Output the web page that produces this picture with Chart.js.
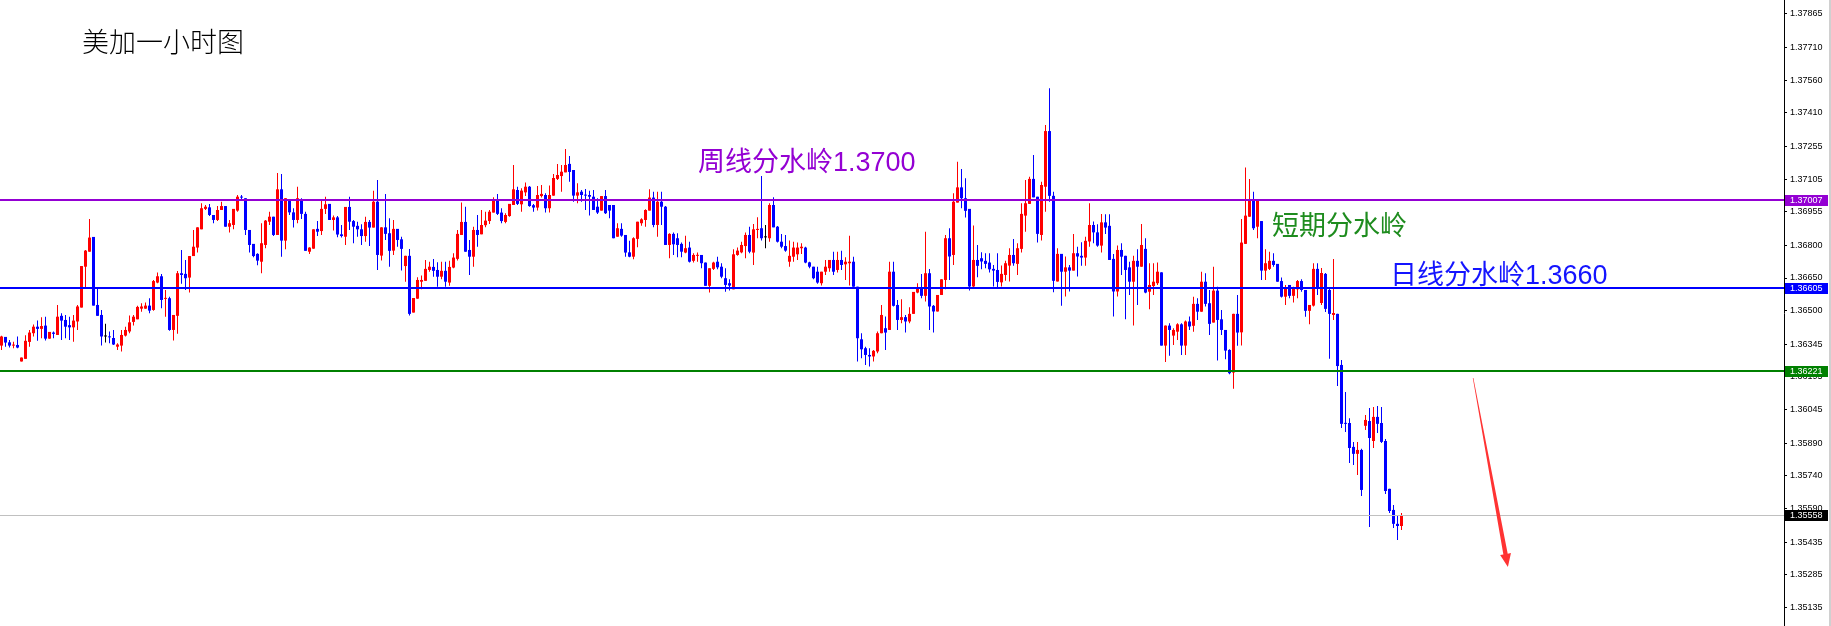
<!DOCTYPE html>
<html>
<head>
<meta charset="utf-8">
<title>美加一小时图</title>
<script src="https://cdn.jsdelivr.net/npm/chart.js@4.4.1/dist/chart.umd.min.js"></script>
<style>
  html, body { margin: 0; padding: 0; background: #fff; }
  #wrap { width: 1831px; height: 626px; }
</style>
</head>
<body>
<div id="wrap"><canvas id="usdcadChart" width="1831" height="626"></canvas></div>
<script>
// hourly candles (oldest first)
const opens = [
  1.36339,1.36379,1.36354,1.36339,1.36342,1.36266,1.36278,1.36356,1.36396,1.36426,
  1.36416,1.36431,1.36371,1.36399,1.36388,1.36476,1.36457,1.36433,1.36423,1.36450,
  1.36514,1.36702,1.36771,1.36839,1.36526,1.36480,1.36381,1.36381,1.36374,1.36334,
  1.36339,1.36385,1.36404,1.36448,1.36460,1.36509,1.36509,1.36523,1.36503,1.36629,
  1.36658,1.36554,1.36557,1.36411,1.36476,1.36672,1.36669,1.36652,1.36751,1.36790,
  1.36874,1.36968,1.36975,1.36940,1.36917,1.36963,1.36981,1.36886,1.36894,1.36960,
  1.37024,1.37017,1.36871,1.36807,1.36761,1.36725,1.36802,1.36909,1.36932,1.36848,
  1.37058,1.36822,1.37012,1.36952,1.36917,1.37009,1.36945,1.36771,1.36785,1.36876,
  1.36866,1.36968,1.36991,1.36917,1.36929,1.36851,1.36840,1.36977,1.36912,1.36890,
  1.36874,1.36843,1.36908,1.36882,1.37001,1.36753,1.36883,1.36856,1.36776,1.36876,
  1.36828,1.36705,1.36752,1.36491,1.36555,1.36633,1.36637,1.36687,1.36701,1.36687,
  1.36656,1.36683,1.36629,1.36698,1.36738,1.36848,1.36908,1.36779,1.36748,1.36871,
  1.36851,1.36893,1.36912,1.36951,1.37012,1.36951,1.36908,1.36935,1.36986,1.37055,
  1.36989,1.37044,1.37070,1.36985,1.36974,1.37027,1.37032,1.36971,1.37029,1.37106,
  1.37119,1.37136,1.37175,1.37147,1.37029,1.37047,1.37032,1.37032,1.37024,1.36978,
  1.36960,1.37027,1.36986,1.36986,1.36840,1.36876,1.36848,1.36768,1.36748,1.36830,
  1.36902,1.36917,1.36960,1.37020,1.36894,1.37001,1.36978,1.36802,1.36853,1.36833,
  1.36807,1.36767,1.36790,1.36729,1.36752,1.36756,1.36721,1.36614,1.36692,1.36725,
  1.36702,1.36649,1.36626,1.36598,1.36756,1.36768,1.36797,1.36848,1.36767,1.36871,
  1.36879,1.36837,1.36833,1.36986,1.36886,1.36817,1.36797,1.36725,1.36748,1.36759,
  1.36787,1.36790,1.36722,1.36702,1.36679,1.36626,1.36679,1.36695,1.36733,1.36687,
  1.36733,1.36713,1.36718,1.36725,1.36610,1.36368,1.36327,1.36296,1.36289,1.36312,
  1.36396,1.36419,1.36411,1.36679,1.36526,1.36457,1.36470,1.36450,1.36485,1.36583,
  1.36600,1.36568,1.36672,1.36522,1.36496,1.36572,1.36641,1.36833,1.36756,1.36997,
  1.37067,1.37017,1.36968,1.36611,1.36733,1.36741,1.36729,1.36721,1.36692,1.36687,
  1.36630,1.36664,1.36707,1.36756,1.36715,1.36784,1.36937,1.36991,1.37106,1.37024,
  1.36848,1.37070,1.37326,1.37028,1.36634,1.36761,1.36679,1.36699,1.36684,1.36764,
  1.36752,1.36744,1.36818,1.36894,1.36860,1.36799,1.36906,1.36890,1.36738,1.36588,
  1.36779,1.36752,1.36699,1.36633,1.36729,1.36702,1.36784,1.36587,1.36613,1.36626,
  1.36676,1.36339,1.36431,1.36385,1.36403,1.36437,1.36339,1.36450,1.36430,1.36531,
  1.36495,1.36633,1.36534,1.36445,1.36592,1.36460,1.36411,1.36319,1.36215,1.36485,
  1.36400,1.36807,1.36932,1.37012,1.36886,1.36912,1.36684,1.36692,1.36729,1.36715,
  1.36636,1.36564,1.36618,1.36568,1.36598,1.36636,1.36595,1.36499,1.36523,1.36692,
  1.36535,1.36669,1.36595,1.36480,1.36485,1.36250,1.35983,1.35983,1.35873,1.35841,
  1.35859,1.35970,1.35992,1.35900,1.36011,1.35983,1.35900,1.35680,1.35583,1.35519,1.35509
];
const highs = [
  1.36384,1.36379,1.36365,1.36357,1.36381,1.36284,1.36387,1.36411,1.36436,1.36454,
  1.36469,1.36472,1.36402,1.36404,1.36526,1.36488,1.36480,1.36472,1.36480,1.36526,
  1.36705,1.36779,1.36922,1.36839,1.36603,1.36503,1.36439,1.36404,1.36411,1.36350,
  1.36411,1.36426,1.36477,1.36480,1.36522,1.36534,1.36537,1.36557,1.36641,1.36675,
  1.36669,1.36595,1.36564,1.36480,1.36682,1.36779,1.36733,1.36751,1.36871,1.36883,
  1.36994,1.36986,1.36991,1.36940,1.36981,1.37001,1.36981,1.36917,1.36968,1.37032,
  1.37032,1.37017,1.36871,1.36807,1.36764,1.36902,1.36917,1.36955,1.36932,1.37133,
  1.37128,1.37017,1.37012,1.36971,1.37070,1.37017,1.36955,1.36791,1.36874,1.36912,
  1.37009,1.37024,1.36991,1.36937,1.36935,1.36894,1.36977,1.37024,1.36917,1.36909,
  1.36897,1.36932,1.36917,1.37052,1.37101,1.36883,1.37037,1.36925,1.36917,1.36876,
  1.36840,1.36752,1.36784,1.36558,1.36653,1.36661,1.36733,1.36725,1.36738,1.36722,
  1.36725,1.36725,1.36729,1.36764,1.36871,1.36997,1.36978,1.36825,1.36886,1.36940,
  1.36963,1.36955,1.36963,1.37021,1.37037,1.36971,1.36948,1.36991,1.37170,1.37070,
  1.37063,1.37089,1.37073,1.36991,1.37073,1.37078,1.37040,1.37076,1.37129,1.37175,
  1.37170,1.37244,1.37211,1.37147,1.37086,1.37055,1.37060,1.37052,1.37055,1.37017,
  1.37027,1.37055,1.36986,1.36986,1.36902,1.36902,1.36848,1.36821,1.36837,1.36909,
  1.36925,1.36966,1.37058,1.37047,1.37047,1.37047,1.36981,1.36856,1.36859,1.36856,
  1.36813,1.36844,1.36817,1.36764,1.36767,1.36756,1.36721,1.36695,1.36725,1.36748,
  1.36718,1.36695,1.36644,1.36782,1.36790,1.36817,1.36859,1.36886,1.36899,1.36929,
  1.37119,1.36894,1.36994,1.37021,1.36889,1.36853,1.36848,1.36822,1.36817,1.36813,
  1.36810,1.36794,1.36725,1.36702,1.36702,1.36679,1.36733,1.36733,1.36771,1.36771,
  1.36775,1.36745,1.36844,1.36748,1.36610,1.36396,1.36334,1.36327,1.36319,1.36404,
  1.36526,1.36473,1.36725,1.36725,1.36549,1.36552,1.36480,1.36515,1.36586,1.36626,
  1.36669,1.36863,1.36692,1.36526,1.36572,1.36644,1.36848,1.36879,1.37040,1.37185,
  1.37152,1.37109,1.36968,1.36891,1.36802,1.36768,1.36764,1.36764,1.36710,1.36764,
  1.36707,1.36729,1.36787,1.36830,1.36810,1.36994,1.37101,1.37116,1.37216,1.37024,
  1.37093,1.37354,1.37523,1.37047,1.36787,1.36761,1.36749,1.36710,1.36853,1.36794,
  1.36814,1.36840,1.36994,1.36910,1.36897,1.36945,1.36943,1.36943,1.36761,1.36799,
  1.36810,1.36752,1.36725,1.36752,1.36782,1.36899,1.36833,1.36718,1.36718,1.36721,
  1.36676,1.36431,1.36442,1.36419,1.36442,1.36442,1.36454,1.36473,1.36564,1.36557,
  1.36679,1.36672,1.36595,1.36702,1.36610,1.36503,1.36411,1.36322,1.36485,1.36572,
  1.36922,1.37158,1.37106,1.37047,1.37009,1.36912,1.36782,1.36771,1.36764,1.36715,
  1.36652,1.36618,1.36618,1.36610,1.36641,1.36644,1.36595,1.36526,1.36718,1.36718,
  1.36696,1.36673,1.36600,1.36738,1.36485,1.36273,1.36126,1.36005,1.35896,1.35896,
  1.35865,1.36020,1.36052,1.36057,1.36061,1.36057,1.35909,1.35680,1.35606,1.35555,1.35569
];
const lows = [
  1.36319,1.36334,1.36330,1.36327,1.36327,1.36266,1.36278,1.36334,1.36381,1.36361,
  1.36373,1.36362,1.36371,1.36373,1.36388,1.36365,1.36373,1.36365,1.36357,1.36411,
  1.36514,1.36603,1.36771,1.36523,1.36476,1.36339,1.36353,1.36350,1.36342,1.36319,
  1.36312,1.36381,1.36396,1.36431,1.36460,1.36495,1.36508,1.36488,1.36499,1.36626,
  1.36511,1.36472,1.36407,1.36362,1.36394,1.36623,1.36595,1.36583,1.36751,1.36767,
  1.36874,1.36963,1.36935,1.36902,1.36912,1.36963,1.36886,1.36859,1.36874,1.36955,
  1.37012,1.36848,1.36767,1.36745,1.36709,1.36672,1.36787,1.36894,1.36843,1.36848,
  1.36748,1.36782,1.36940,1.36882,1.36902,1.36922,1.36775,1.36761,1.36785,1.36843,
  1.36848,1.36945,1.36917,1.36868,1.36837,1.36836,1.36802,1.36871,1.36810,1.36840,
  1.36802,1.36817,1.36797,1.36882,1.36687,1.36730,1.36825,1.36702,1.36756,1.36794,
  1.36684,1.36633,1.36477,1.36491,1.36555,1.36598,1.36637,1.36679,1.36656,1.36610,
  1.36644,1.36610,1.36614,1.36695,1.36730,1.36848,1.36771,1.36664,1.36702,1.36794,
  1.36851,1.36883,1.36899,1.36951,1.36940,1.36902,1.36902,1.36932,1.36986,1.36986,
  1.36955,1.37027,1.36978,1.36955,1.36960,1.37020,1.36951,1.36951,1.37029,1.37101,
  1.37047,1.37136,1.37093,1.37001,1.36994,1.37001,1.36963,1.36937,1.36963,1.36945,
  1.36960,1.36945,1.36925,1.36833,1.36840,1.36840,1.36748,1.36745,1.36736,1.36791,
  1.36890,1.36886,1.36960,1.36883,1.36840,1.36894,1.36802,1.36741,1.36756,1.36745,
  1.36745,1.36764,1.36721,1.36721,1.36725,1.36695,1.36614,1.36583,1.36687,1.36690,
  1.36649,1.36587,1.36592,1.36598,1.36752,1.36764,1.36741,1.36764,1.36710,1.36833,
  1.36822,1.36787,1.36817,1.36883,1.36813,1.36787,1.36771,1.36702,1.36725,1.36733,
  1.36761,1.36718,1.36695,1.36644,1.36623,1.36615,1.36664,1.36679,1.36664,1.36675,
  1.36687,1.36641,1.36615,1.36610,1.36266,1.36281,1.36250,1.36243,1.36266,1.36304,
  1.36396,1.36319,1.36411,1.36519,1.36411,1.36442,1.36399,1.36442,1.36485,1.36580,
  1.36557,1.36542,1.36411,1.36399,1.36496,1.36572,1.36598,1.36641,1.36710,1.36997,
  1.36971,1.36928,1.36592,1.36603,1.36653,1.36690,1.36695,1.36675,1.36611,1.36603,
  1.36611,1.36637,1.36634,1.36706,1.36664,1.36767,1.36863,1.36991,1.37021,1.36813,
  1.36822,1.36955,1.37001,1.36584,1.36634,1.36522,1.36565,1.36588,1.36684,1.36657,
  1.36706,1.36706,1.36794,1.36810,1.36794,1.36767,1.36853,1.36733,1.36473,1.36565,
  1.36664,1.36460,1.36572,1.36431,1.36526,1.36702,1.36580,1.36506,1.36572,1.36618,
  1.36339,1.36263,1.36292,1.36342,1.36365,1.36296,1.36296,1.36411,1.36403,1.36457,
  1.36495,1.36519,1.36388,1.36445,1.36270,1.36388,1.36276,1.36207,1.36140,1.36338,
  1.36339,1.36807,1.36932,1.36871,1.36833,1.36641,1.36641,1.36687,1.36702,1.36633,
  1.36560,1.36526,1.36557,1.36537,1.36557,1.36587,1.36472,1.36437,1.36519,1.36572,
  1.36526,1.36494,1.36278,1.36457,1.36153,1.35960,1.35942,1.35799,1.35790,1.35744,
  1.35647,1.35951,1.35505,1.35868,1.35937,1.35891,1.35656,1.35569,1.35500,1.35445,1.35491
];
const closes = [
  1.36381,1.36353,1.36339,1.36342,1.36330,1.36284,1.36361,1.36399,1.36426,1.36416,
  1.36429,1.36371,1.36402,1.36393,1.36472,1.36454,1.36426,1.36423,1.36454,1.36519,
  1.36705,1.36776,1.36836,1.36523,1.36476,1.36381,1.36381,1.36377,1.36344,1.36344,
  1.36388,1.36411,1.36446,1.36472,1.36517,1.36519,1.36523,1.36500,1.36636,1.36658,
  1.36549,1.36557,1.36411,1.36480,1.36672,1.36664,1.36649,1.36751,1.36794,1.36883,
  1.36971,1.36978,1.36940,1.36917,1.36963,1.36981,1.36886,1.36902,1.36968,1.37024,
  1.37020,1.36871,1.36802,1.36751,1.36730,1.36810,1.36914,1.36932,1.36848,1.37058,
  1.36822,1.37017,1.36952,1.36917,1.37017,1.36945,1.36775,1.36790,1.36874,1.36863,
  1.36968,1.36989,1.36917,1.36929,1.36850,1.36843,1.36977,1.36909,1.36886,1.36874,
  1.36843,1.36908,1.36882,1.37001,1.36756,1.36883,1.36853,1.36775,1.36876,1.36825,
  1.36784,1.36752,1.36485,1.36558,1.36641,1.36641,1.36692,1.36702,1.36683,1.36656,
  1.36683,1.36633,1.36701,1.36744,1.36853,1.36908,1.36771,1.36748,1.36871,1.36848,
  1.36894,1.36914,1.36955,1.37009,1.36945,1.36912,1.36940,1.36991,1.37058,1.36991,
  1.37052,1.37070,1.36981,1.36974,1.37032,1.37037,1.36971,1.37032,1.37110,1.37124,
  1.37139,1.37170,1.37138,1.37029,1.37044,1.37032,1.37029,1.37024,1.36963,1.36951,
  1.37027,1.36948,1.36960,1.36833,1.36879,1.36845,1.36767,1.36748,1.36833,1.36909,
  1.36920,1.36963,1.37020,1.36894,1.37001,1.36978,1.36802,1.36853,1.36805,1.36802,
  1.36771,1.36787,1.36725,1.36756,1.36756,1.36718,1.36614,1.36695,1.36721,1.36699,
  1.36656,1.36618,1.36615,1.36759,1.36776,1.36802,1.36848,1.36771,1.36874,1.36876,
  1.36833,1.36837,1.36986,1.36883,1.36817,1.36794,1.36776,1.36752,1.36790,1.36790,
  1.36794,1.36721,1.36702,1.36649,1.36629,1.36679,1.36702,1.36733,1.36679,1.36733,
  1.36710,1.36725,1.36725,1.36610,1.36373,1.36322,1.36296,1.36289,1.36315,1.36396,
  1.36480,1.36399,1.36679,1.36522,1.36457,1.36470,1.36450,1.36485,1.36586,1.36600,
  1.36568,1.36672,1.36519,1.36496,1.36572,1.36644,1.36833,1.36749,1.37001,1.37067,
  1.37017,1.36959,1.36611,1.36733,1.36706,1.36726,1.36715,1.36690,1.36684,1.36632,
  1.36669,1.36718,1.36756,1.36718,1.36787,1.36945,1.36994,1.37106,1.37021,1.36853,
  1.37078,1.37326,1.37028,1.36637,1.36761,1.36679,1.36699,1.36684,1.36764,1.36749,
  1.36744,1.36821,1.36894,1.36860,1.36799,1.36906,1.36882,1.36733,1.36588,1.36779,
  1.36748,1.36687,1.36633,1.36729,1.36702,1.36802,1.36583,1.36618,1.36633,1.36679,
  1.36339,1.36431,1.36411,1.36411,1.36437,1.36339,1.36450,1.36427,1.36531,1.36495,
  1.36633,1.36531,1.36439,1.36592,1.36457,1.36411,1.36316,1.36212,1.36485,1.36399,
  1.36813,1.36937,1.37012,1.36879,1.37009,1.36684,1.36718,1.36729,1.36710,1.36633,
  1.36564,1.36607,1.36568,1.36600,1.36636,1.36595,1.36499,1.36526,1.36692,1.36603,
  1.36673,1.36508,1.36485,1.36489,1.36245,1.35979,1.35979,1.35868,1.35841,1.35859,
  1.35675,1.35997,1.35914,1.36011,1.35979,1.35896,1.35670,1.35578,1.35519,1.35509,1.35558
];

// price axis labels as shown on the right
const yTicks = [1.37865, 1.37710, 1.37560, 1.37410, 1.37255, 1.37105, 1.36955, 1.36800, 1.36650,
                1.36500, 1.36345, 1.36195, 1.36045, 1.35890, 1.35740, 1.35590, 1.35435, 1.35285, 1.35135];

// horizontal levels drawn on the chart
const levels = [1.37007, 1.36605, 1.36221];
const levelColors = ['#9400D3', '#0000FF', '#008000'];
const lastPrice = 1.35558;

const notes = ['周线分水岭1.3700', '短期分水岭', '日线分水岭1.3660'];
const noteAt = [[174.1, 1.37142], [317.6, 1.36848], [347.1, 1.36623]];
const noteColors = ['#9400D3', '#1E8C1E', '#1414FF'];

const arrowFrom = [367.9, 1.36190];
const arrowTo = [376.6, 1.35321];

document.addEventListener("DOMContentLoaded", function () {
    const canvas = document.getElementById("usdcadChart").getContext("2d");

    const candleColors = closes.map((c, i) => c > opens[i] ? '#FF0000' : (c < opens[i] ? '#0000FF' : '#000000'));
    const bodies = closes.map((c, i) => ({ x: i, y: [opens[i], c] }));
    const wicks = closes.map((c, i) => ({ x: i, y: [lows[i], highs[i]] }));

    // level lines, axis price tags, notes and arrow
    const overlay = {
        id: 'overlay',
        afterDatasetsDraw(chart) {
            const { ctx, chartArea, scales } = chart;
            const w = chartArea.right - chartArea.left;
            ctx.save();
            levels.forEach((v, k) => {
                const py = Math.round(scales.y.getPixelForValue(v));
                ctx.fillStyle = levelColors[k];
                ctx.fillRect(chartArea.left, py - 1, w, 2);
            });
            const by = Math.round(scales.y.getPixelForValue(lastPrice));
            ctx.fillStyle = '#C0C0C0';
            ctx.fillRect(chartArea.left, by, w, 1);
            ctx.restore();
        },
        afterDraw(chart) {
            const { ctx, chartArea, scales } = chart;
            const x = scales.x, y = scales.y;
            ctx.save();

            // price tags on the axis
            const tags = levels.map((v, k) => [v, levelColors[k]]).concat([[lastPrice, '#000000']]);
            ctx.font = '9px "Liberation Sans", Arial, sans-serif';
            ctx.textBaseline = 'middle';
            ctx.textAlign = 'left';
            tags.forEach(([v, col]) => {
                const py = Math.round(y.getPixelForValue(v));
                ctx.fillStyle = col;
                ctx.fillRect(chartArea.right + 1, py - 5, 43, 11);
                ctx.fillStyle = '#FFFFFF';
                ctx.fillText(v.toFixed(5), chartArea.right + 6, py + 0.5);
            });

            // right edge
            ctx.fillStyle = '#D0D0D0';
            ctx.fillRect(1829, 0, 2, chart.height);

            // title
            ctx.font = '300 27px "Noto Sans CJK SC", sans-serif';
            ctx.fillStyle = '#000000';
            ctx.textBaseline = 'alphabetic';
            ctx.fillText('美加一小时图', 82, 52);

            // notes
            ctx.font = '27px "Liberation Sans", "Noto Sans CJK SC", sans-serif';
            notes.forEach((t, k) => {
                ctx.fillStyle = noteColors[k];
                ctx.fillText(t, x.getPixelForValue(noteAt[k][0]), y.getPixelForValue(noteAt[k][1]));
            });

            // arrow
            const sx = x.getPixelForValue(arrowFrom[0]), sy = y.getPixelForValue(arrowFrom[1]);
            const tx = x.getPixelForValue(arrowTo[0]), ty = y.getPixelForValue(arrowTo[1]);
            const len = Math.hypot(tx - sx, ty - sy);
            const dx = (tx - sx) / len, dy = (ty - sy) / len;
            const nx = -dy, ny = dx;
            const bx = tx - dx * 13, by = ty - dy * 13;
            ctx.fillStyle = '#FF3333';
            ctx.beginPath();
            ctx.moveTo(sx - nx * 0.3, sy - ny * 0.3);
            ctx.lineTo(sx + nx * 0.3, sy + ny * 0.3);
            ctx.lineTo(bx + nx * 2.2, by + ny * 2.2);
            ctx.lineTo(bx + nx * 5.5, by + ny * 5.5);
            ctx.lineTo(tx, ty);
            ctx.lineTo(bx - nx * 5.5, by - ny * 5.5);
            ctx.lineTo(bx - nx * 2.2, by - ny * 2.2);
            ctx.closePath();
            ctx.fill();

            ctx.restore();
        }
    };

    new Chart(canvas, {
        type: 'bar',
        data: {
            datasets: [
                {
                    label: 'body',
                    data: bodies,
                    backgroundColor: c => candleColors[c.dataIndex],
                    barThickness: 3,
                    minBarLength: 1,
                    inflateAmount: 0,
                    borderWidth: 0,
                    grouped: false,
                    order: 0
                },
                {
                    label: 'wick',
                    data: wicks,
                    backgroundColor: c => candleColors[c.dataIndex],
                    barThickness: 1,
                    minBarLength: 1,
                    inflateAmount: 0,
                    borderWidth: 0,
                    grouped: false,
                    order: 1
                }
            ]
        },
        options: {
            responsive: false,
            animation: false,
            layout: { padding: 0, autoPadding: false },
            plugins: {
                legend: { display: false },
                tooltip: { enabled: false }
            },
            scales: {
                x: {
                    type: 'linear',
                    display: false,
                    offset: false,
                    min: -0.375,
                    max: 445.625
                },
                y: {
                    position: 'right',
                    min: 1.35049,
                    max: 1.37929,
                    afterBuildTicks: s => { s.ticks = yTicks.map(v => ({ value: v })); },
                    afterFit: s => {
                        // full-height price scale, no room kept for edge labels
                        s.width = 47;
                        s.paddingTop = 0;
                        s.paddingBottom = 0;
                        s.paddingLeft = 0;
                        s.paddingRight = 0;
                    },
                    grid: {
                        display: true,
                        drawOnChartArea: false,
                        drawTicks: true,
                        tickLength: 3,
                        tickColor: '#000000'
                    },
                    border: { display: true, color: '#000000', width: 1 },
                    ticks: {
                        autoSkip: false,
                        padding: 3,
                        color: '#000000',
                        font: { family: '"Liberation Sans", Arial, sans-serif', size: 9 },
                        callback: v => Number(v).toFixed(5)
                    }
                }
            }
        },
        plugins: [overlay]
    });
});
</script>
</body>
</html>
